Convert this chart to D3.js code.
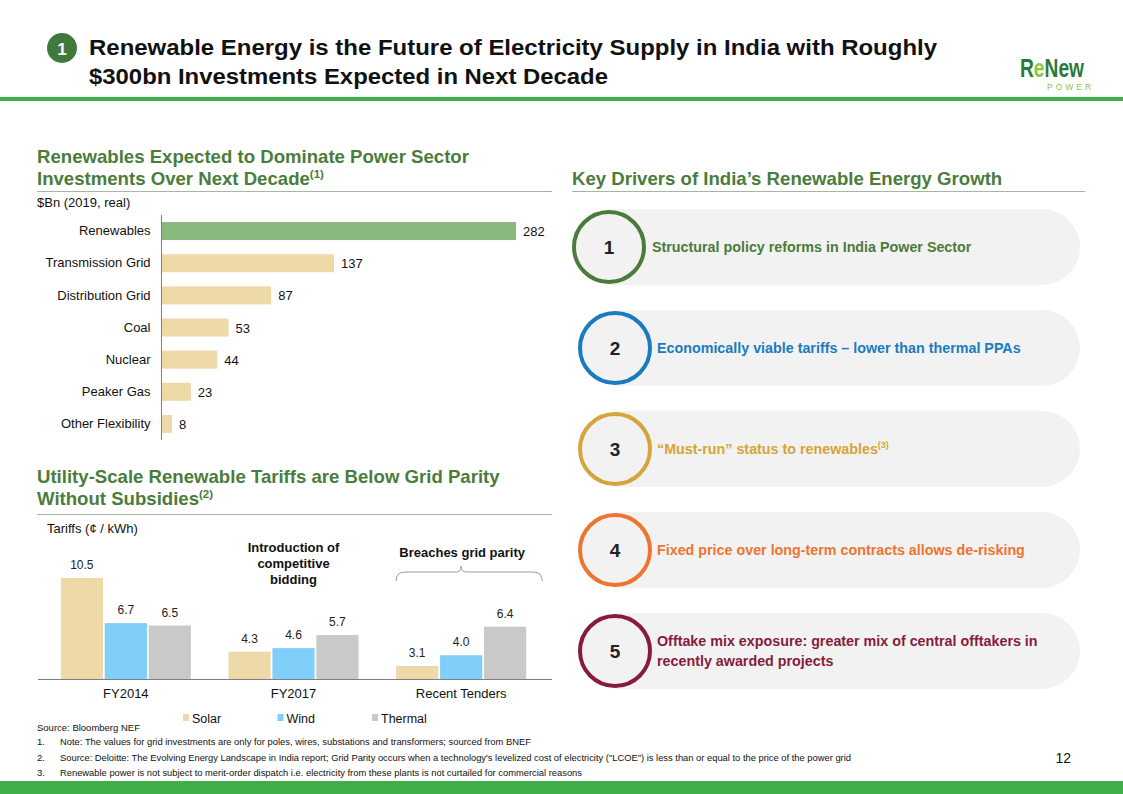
<!DOCTYPE html>
<html>
<head>
<meta charset="utf-8">
<script src="https://cdn.jsdelivr.net/npm/d3@7"></script>
<style>
  html, body { margin: 0; padding: 0; background: #fff; }
  svg { display: block; font-family: "Liberation Sans", Arial, sans-serif; }
</style>
</head>
<body>
<svg id="chart" width="1123" height="794"></svg>
<script>
// ---------- DATA ----------
const investCategories = ["Renewables", "Transmission Grid", "Distribution Grid", "Coal", "Nuclear", "Peaker Gas", "Other Flexibility"];
const investValues = [282, 137, 87, 53, 44, 23, 8];

const tariffGroups = ["FY2014", "FY2017", "Recent Tenders"];
const tariffSeries = ["Solar", "Wind", "Thermal"];
const solarTariffs = [10.5, 4.3, 3.1];
const windTariffs = [6.7, 4.6, 4.0];
const thermalTariffs = [6.5, 5.7, 6.4];

const driverNumbers = ["1", "2", "3", "4", "5"];
const driverTexts = [
  ["Structural policy reforms in India Power Sector"],
  ["Economically viable tariffs \u2013 lower than thermal PPAs"],
  ["\u201cMust-run\u201d status to renewables"],
  ["Fixed price over long-term contracts allows de-risking"],
  ["Offtake mix exposure: greater mix of central offtakers in", "recently awarded projects"]
];
const driverNotes = ["", "", "(3)", "", ""];

const footnotes = [
  "Note: The values for grid investments are only for poles, wires, substations and transformers; sourced from BNEF",
  "Source: Deloitte: The Evolving Energy Landscape in India report; Grid Parity occurs when a technology's levelized  cost of electricity (\"LCOE\") is less than or equal to the price of the power grid",
  "Renewable power is not subject to merit-order dispatch i.e. electricity from these plants is not curtailed for commercial reasons"
];

// ---------- STYLE ----------
const GREEN_TITLE = "#4a7d3b";
const RULE = "#a3b99f";
const BRAND = "#3fae49";
const driverColors = ["#4b7b3b", "#1a7bbf", "#d4a53a", "#ec7530", "#861c3c"];
const seriesColors = { Solar: "#eed9a9", Wind: "#80cffa", Thermal: "#c9c9c9" };

const svg = d3.select("#chart");

// ---------- HEADER ----------
svg.append("circle").attr("cx", 62).attr("cy", 48).attr("r", 15).attr("fill", "#3f7a3c");
svg.append("text").attr("x", 62).attr("y", 54.5).attr("text-anchor", "middle")
  .attr("font-size", 17).attr("font-weight", "bold").attr("fill", "#fff").text("1");
svg.append("text").attr("x", 89).attr("y", 55).attr("font-size", 22).attr("font-weight", "bold")
  .attr("fill", "#111").attr("textLength", 848).attr("lengthAdjust", "spacingAndGlyphs")
  .text("Renewable Energy is the Future of Electricity Supply in India with Roughly");
svg.append("text").attr("x", 89).attr("y", 84).attr("font-size", 22).attr("font-weight", "bold")
  .attr("fill", "#111").attr("textLength", 519).attr("lengthAdjust", "spacingAndGlyphs")
  .text("$300bn Investments Expected in Next Decade");

// logo
const logo = svg.append("text").attr("transform", "translate(1020,77) scale(0.8,1.1)")
  .attr("font-size", 24).attr("font-weight", "bold");
logo.append("tspan").attr("fill", "#2c7a3a").text("R");
logo.append("tspan").attr("fill", "#8cc63f").text("e");
logo.append("tspan").attr("fill", "#2c7a3a").text("New");
svg.append("text").attr("x", 1047).attr("y", 90).attr("font-size", 8.5).attr("fill", "#8cc63f")
  .attr("letter-spacing", 3).text("POWER");

svg.append("rect").attr("x", 0).attr("y", 97).attr("width", 1123).attr("height", 4).attr("fill", BRAND);
svg.append("rect").attr("x", 0).attr("y", 781).attr("width", 1123).attr("height", 13).attr("fill", BRAND);

// ---------- SECTION TITLES ----------
function sectionTitle(x, lines, baseY, note, ruleY, ruleX2) {
  lines.forEach((l, i) => {
    const t = svg.append("text").attr("x", x).attr("y", baseY + i * 22).attr("font-size", 18.6)
      .attr("font-weight", "bold").attr("fill", GREEN_TITLE);
    t.append("tspan").text(l);
    if (i === lines.length - 1 && note) {
      t.append("tspan").attr("font-size", 11.5).attr("dy", -7).text(note);
    }
  });
  svg.append("line").attr("x1", x).attr("x2", ruleX2).attr("y1", ruleY).attr("y2", ruleY)
    .attr("stroke", RULE).attr("stroke-width", 1.2);
}
sectionTitle(37, ["Renewables Expected to Dominate Power Sector", "Investments Over Next Decade"], 163, "(1)", 191.5, 552);
sectionTitle(37, ["Utility-Scale Renewable Tariffs are Below Grid Parity", "Without Subsidies"], 483, "(2)", 514.5, 552);
sectionTitle(572, ["Key Drivers of India\u2019s Renewable Energy Growth"], 185, "", 191.5, 1085);

// ---------- CHART 1: horizontal bars ----------
svg.append("text").attr("x", 37).attr("y", 207).attr("font-size", 13).attr("fill", "#111").text("$Bn (2019, real)");

const yInv = d3.scaleBand().domain(investCategories).range([215, 440]).paddingInner(0.44).paddingOuter(0.22);
const xInv = d3.scaleLinear().domain([0, 282]).range([162, 516]);

const g1 = svg.append("g");
g1.selectAll("rect.inv").data(investCategories).join("rect")
  .attr("x", xInv(0)).attr("y", d => yInv(d))
  .attr("width", (d, i) => xInv(investValues[i]) - xInv(0))
  .attr("height", yInv.bandwidth())
  .attr("fill", (d, i) => i === 0 ? "#88ba80" : "#eed9a9");

const axY = svg.append("g").attr("transform", `translate(${xInv(0) - 0.5},0)`)
  .call(d3.axisLeft(yInv).tickSize(0).tickPadding(11));
axY.select(".domain").attr("stroke", "#7f7f7f").attr("d", "M0,215V440");
axY.selectAll("text").attr("font-size", 13).attr("fill", "#111")
  .attr("font-family", "Liberation Sans, Arial, sans-serif");

g1.selectAll("text.val").data(investCategories).join("text")
  .attr("x", (d, i) => xInv(investValues[i]) + 7)
  .attr("y", d => yInv(d) + yInv.bandwidth() / 2 + 5)
  .attr("font-size", 13).attr("fill", "#111")
  .text((d, i) => investValues[i]);

// ---------- CHART 2: grouped bars ----------
svg.append("text").attr("x", 47).attr("y", 533).attr("font-size", 13).attr("fill", "#111").text("Tariffs (\u00a2 / kWh)");

const seriesData = { Solar: solarTariffs, Wind: windTariffs, Thermal: thermalTariffs };
const x0 = d3.scaleBand().domain(tariffGroups).range([42, 545]).paddingInner(0.224).paddingOuter(0.112);
const x1 = d3.scaleBand().domain(tariffSeries).range([0, x0.bandwidth()]).paddingInner(0.04);
const yT = d3.scaleLinear().domain([2, 10.5]).range([679, 578]);

const groups = svg.append("g").selectAll("g").data(tariffGroups).join("g")
  .attr("transform", d => `translate(${x0(d)},0)`);
groups.selectAll("rect").data((g, gi) => tariffSeries.map(s => ({ s, v: seriesData[s][gi] })))
  .join("rect")
  .attr("x", d => x1(d.s)).attr("y", d => yT(d.v))
  .attr("width", x1.bandwidth()).attr("height", d => yT.range()[0] - yT(d.v))
  .attr("fill", d => seriesColors[d.s]);
groups.selectAll("text").data((g, gi) => tariffSeries.map(s => ({ s, v: seriesData[s][gi] })))
  .join("text")
  .attr("x", d => x1(d.s) + x1.bandwidth() / 2).attr("y", d => yT(d.v) - 9)
  .attr("text-anchor", "middle").attr("font-size", 12).attr("fill", "#222")
  .text(d => d3.format(".1f")(d.v));

const axX = svg.append("g").attr("transform", "translate(0,679.5)")
  .call(d3.axisBottom(x0).tickSize(0).tickPadding(9));
axX.select(".domain").attr("stroke", "#7f7f7f").attr("d", "M38,0H552");
axX.selectAll("text").attr("font-size", 13).attr("fill", "#111")
  .attr("font-family", "Liberation Sans, Arial, sans-serif");

// annotations
const introX = x0("FY2017") + x0.bandwidth() / 2;
["Introduction of", "competitive", "bidding"].forEach((l, i) => {
  svg.append("text").attr("x", introX).attr("y", 552 + i * 16).attr("text-anchor", "middle")
    .attr("font-size", 13).attr("font-weight", "bold").attr("fill", "#111").text(l);
});
const recX0 = x0("Recent Tenders"), recX1 = x0("Recent Tenders") + x0.bandwidth(), recC = (recX0 + recX1) / 2;
svg.append("text").attr("x", recC + 1).attr("y", 557).attr("text-anchor", "middle")
  .attr("font-size", 13).attr("font-weight", "bold").attr("fill", "#111").text("Breaches grid parity");
svg.append("path")
  .attr("d", `M${recX0},581 Q${recX0},572 ${recX0 + 9},572 L${recC - 5},572 Q${recC},572 ${recC},566 Q${recC},572 ${recC + 5},572 L${recX1 + 7},572 Q${recX1 + 16},572 ${recX1 + 16},581`)
  .attr("fill", "none").attr("stroke", "#9a9a9a").attr("stroke-width", 1);

// legend
const legX = d3.scalePoint().domain(tariffSeries).range([183, 372]);
const leg = svg.append("g").selectAll("g").data(tariffSeries).join("g")
  .attr("transform", d => `translate(${legX(d)},718)`);
leg.append("rect").attr("x", 0).attr("y", -4).attr("width", 6).attr("height", 7).attr("fill", d => seriesColors[d]);
leg.append("text").attr("x", 9).attr("y", 4.5).attr("font-size", 12.5).attr("fill", "#111").text(d => d);

// ---------- KEY DRIVERS ----------
const rowY = d3.scalePoint().domain(driverNumbers).range([247, 651]);
const pillR = 38, pillRight = 1080;
driverNumbers.forEach((n, i) => {
  const cy = rowY(n);
  const cx = i === 0 ? 609 : 615;
  svg.append("path")
    .attr("d", `M${cx},${cy - pillR} H${pillRight - pillR} A${pillR},${pillR} 0 0 1 ${pillRight - pillR},${cy + pillR} H${cx} Z`)
    .attr("fill", "#f2f2f2");
  svg.append("circle").attr("cx", cx).attr("cy", cy).attr("r", 35)
    .attr("fill", "#f2f2f2").attr("stroke", driverColors[i]).attr("stroke-width", 4);
  svg.append("text").attr("x", cx).attr("y", cy + 7).attr("text-anchor", "middle")
    .attr("font-size", 19).attr("font-weight", "bold").attr("fill", "#222").text(n);
  const lines = driverTexts[i];
  const tx = i === 0 ? 652 : 657;
  lines.forEach((l, li) => {
    const t = svg.append("text").attr("x", tx)
      .attr("y", cy + 5 + (li - (lines.length - 1) / 2) * 20)
      .attr("font-size", 14.3).attr("font-weight", "bold").attr("fill", driverColors[i]);
    t.append("tspan").text(l);
    if (driverNotes[i] && li === lines.length - 1) {
      t.append("tspan").attr("font-size", 9).attr("dy", -6).text(driverNotes[i]);
    }
  });
});

// ---------- FOOTNOTES ----------
svg.append("text").attr("x", 37).attr("y", 731).attr("font-size", 9.5).attr("fill", "#111")
  .text("Source: Bloomberg NEF");
const fnEnds = [531, 851, 582];
footnotes.forEach((f, i) => {
  const y = 745 + i * 15.5;
  svg.append("text").attr("x", 37).attr("y", y).attr("font-size", 9.5).attr("fill", "#111").text((i + 1) + ".");
  svg.append("text").attr("x", 60).attr("y", y).attr("font-size", 9.5).attr("fill", "#111")
    .attr("textLength", fnEnds[i] - 60).attr("lengthAdjust", "spacingAndGlyphs").text(f);
});
svg.append("text").attr("x", 1071).attr("y", 763).attr("text-anchor", "end").attr("font-size", 14)
  .attr("fill", "#111").text("12");
</script>
</body>
</html>
